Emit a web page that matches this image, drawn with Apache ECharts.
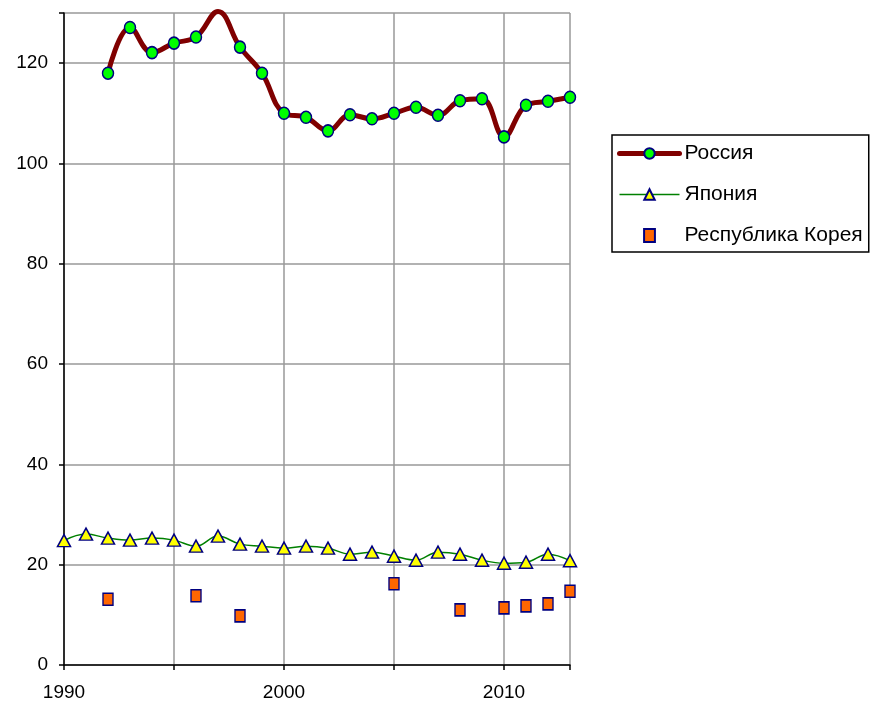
<!DOCTYPE html>
<html><head><meta charset="utf-8">
<script src="https://cdn.jsdelivr.net/npm/echarts@6/dist/echarts.min.js"></script>
<style>html,body{margin:0;padding:0;background:#fff}#c{width:873px;height:708px}</style>
</head><body><div id="c"></div>
<script>
const russiaYears = [1992,1993,1994,1995,1996,1997,1998,1999,2000,2001,2002,2003,2004,2005,2006,2007,2008,2009,2010,2011,2012,2013];
const russiaValues = [118.0,127.1,122.1,124.0,125.2,130.3,123.2,118.0,110.0,109.2,106.5,109.7,108.9,110.0,111.2,109.6,112.5,112.9,105.3,111.6,112.4,113.2];
const japanYears = [1990,1991,1992,1993,1994,1995,1996,1997,1998,1999,2000,2001,2002,2003,2004,2005,2006,2007,2008,2009,2010,2011,2012,2013];
const japanValues = [24.8,26.1,25.3,24.9,25.3,24.9,23.7,25.7,24.1,23.7,23.3,23.7,23.3,22.1,22.5,21.7,20.9,22.5,22.1,20.9,20.3,20.5,22.1,20.8];
const koreaYears = [1992,1996,1998,2005,2008,2010,2011,2012,2013];
const koreaValues = [13.1,13.8,9.8,16.2,11.0,11.4,11.8,12.2,14.7];
const seriesNames = ['Россия','Япония','Республика Корея'];

const chart = echarts.init(document.getElementById('c'));
const font = 'Liberation Sans, Arial, sans-serif';
chart.setOption({
  animation: false,
  backgroundColor: '#fff',
  grid: {left: 64, right: 303, top: 13, bottom: 43, containLabel: false},
  legend: {
    orient: 'vertical', left: 612, top: 135,
    padding: [8, 6, 6, 5],
    borderColor: '#000', borderWidth: 1.5,
    itemWidth: 60, itemHeight: 13, itemGap: 20,
    symbolKeepAspect: true,
    textStyle: {fontFamily: font, fontSize: 21, color: '#000'},
    data: [
      {name: seriesNames[0], lineStyle: {color: '#800000', width: 5}},
      {name: seriesNames[1], lineStyle: {color: '#008000', width: 1.5}},
      {name: seriesNames[2], icon: 'path://M0,0L10,0L10,12L0,12Z'}
    ]
  },
  xAxis: {
    type: 'value', min: 1990, max: 2013, interval: 5,
    axisLine: {show: true, lineStyle: {color: '#000', width: 1.5}},
    axisTick: {show: true, length: 5, lineStyle: {color: '#000', width: 1.5}},
    axisLabel: {fontFamily: font, fontSize: 19, color: '#000', margin: 18,
      formatter: v => (v % 10 === 0 ? String(v) : '')},
    splitLine: {show: true, lineStyle: {color: '#999', width: 1.5}}
  },
  yAxis: {
    type: 'value', min: 0, max: 130, interval: 20,
    axisLine: {show: true, lineStyle: {color: '#000', width: 1.5}},
    axisTick: {show: true, length: 5, lineStyle: {color: '#000', width: 1.5}},
    axisLabel: {fontFamily: font, fontSize: 19, color: '#000', margin: 16,
      formatter: v => (v === 130 ? '' : String(v))},
    splitLine: {show: true, lineStyle: {color: '#999', width: 1.5}}
  },
  series: [
    {
      name: seriesNames[0], type: 'line', smooth: 0.4,
      data: russiaYears.map((y, i) => (y === 1997 ? {value: [y, russiaValues[i]], symbol: 'none'} : [y, russiaValues[i]])),
      symbol: 'circle', symbolSize: [11, 12], showAllSymbol: true,
      lineStyle: {color: '#800000', width: 5, cap: 'round', join: 'round'},
      itemStyle: {color: '#00FF00', borderColor: '#000080', borderWidth: 1.5},
      clip: false, z: 3
    },
    {
      name: seriesNames[1], type: 'line', smooth: 0.4,
      data: japanYears.map((y, i) => [y, japanValues[i]]),
      symbol: 'triangle', symbolSize: [13, 12], showAllSymbol: true,
      lineStyle: {color: '#008000', width: 1.5},
      itemStyle: {color: '#FFFF00', borderColor: '#000080', borderWidth: 1.5},
      clip: false, z: 2
    },
    {
      name: seriesNames[2], type: 'scatter',
      data: koreaYears.map((y, i) => [y, koreaValues[i]]),
      symbol: 'rect', symbolSize: [10, 12],
      itemStyle: {color: '#FF6600', borderColor: '#000080', borderWidth: 1.5, opacity: 1},
      z: 2
    }
  ]
});
</script>
</body></html>
